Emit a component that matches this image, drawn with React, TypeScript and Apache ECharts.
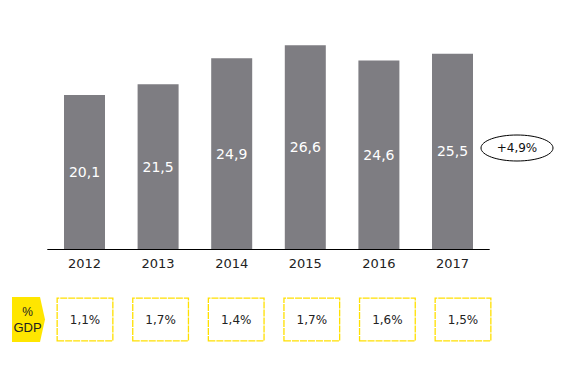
import React, { useEffect, useRef } from "react";
import * as echarts from "echarts";

const years = ["2012", "2013", "2014", "2015", "2016", "2017"];
const values = [20.1, 21.5, 24.9, 26.6, 24.6, 25.5];
const gdpShare = [1.1, 1.7, 1.4, 1.7, 1.6, 1.5];
const growthLabel = "+4,9%";

const fmt = (v: number) => v.toFixed(1).replace(".", ",");

export default function App() {
  const ref = useRef<HTMLDivElement>(null);
  useEffect(() => {
    document.body.style.margin = "0";
    const chart = echarts.init(ref.current!, null, { renderer: "svg" });
    const font = "DejaVu Sans, Verdana, sans-serif";
    chart.setOption({
      animation: false,
      backgroundColor: "#ffffff",
      grid: [
        { left: 47.7, right: 71.7, top: 19.2, bottom: 117 },
        { left: 47.2, right: 60.2, top: 297.5, height: 44 },
      ],
      xAxis: [
        {
          type: "category",
          gridIndex: 0,
          data: years,
          axisLine: { lineStyle: { color: "#000", width: 1 } },
          axisTick: { show: false },
          axisLabel: { color: "#222", fontSize: 13, fontFamily: font, margin: 8 },
        },
        {
          type: "category",
          gridIndex: 1,
          data: years,
          show: false,
        },
      ],
      yAxis: [
        { type: "value", gridIndex: 0, min: 0, max: 30, show: false, splitLine: { show: false } },
        { type: "value", gridIndex: 1, min: 0, max: 1, show: false, splitLine: { show: false } },
      ],
      series: [
        {
          type: "bar",
          xAxisIndex: 0,
          yAxisIndex: 0,
          data: values,
          barWidth: 41,
          itemStyle: { color: "#7e7d82" },
          label: {
            show: true,
            position: "inside",
            color: "#ffffff",
            fontSize: 14,
            fontFamily: font,
            formatter: (p: any) => fmt(p.value),
          },
        },
        {
          type: "bar",
          xAxisIndex: 1,
          yAxisIndex: 1,
          data: gdpShare.map(() => 1),
          barWidth: 57,
          itemStyle: {
            color: "rgba(255,255,255,0)",
            borderColor: "#ffe000",
            borderWidth: 1.3,
            borderType: [7, 1],
          },
          label: {
            show: true,
            position: "inside",
            color: "#222",
            fontSize: 12,
            fontFamily: font,
            formatter: (p: any) => fmt(gdpShare[p.dataIndex]) + "%",
          },
        },
      ],
      graphic: [
        {
          type: "ellipse",
          shape: { cx: 517, cy: 148, rx: 36, ry: 13 },
          style: { fill: "#fff", stroke: "#000", lineWidth: 1 },
        },
        {
          type: "text",
          x: 517,
          y: 148,
          style: {
            text: growthLabel,
            fill: "#111",
            fontSize: 12,
            fontFamily: font,
            align: "center",
            verticalAlign: "middle",
          },
        },
        {
          type: "polygon",
          shape: { points: [[12, 297], [40, 297], [45, 319.5], [40, 342], [12, 342]] },
          style: { fill: "#ffe600" },
        },
        {
          type: "text",
          x: 27.5,
          y: 312,
          style: {
            text: "%",
            fill: "#222",
            fontSize: 12,
            fontFamily: "Liberation Sans, Arial, sans-serif",
            align: "center",
            verticalAlign: "middle",
          },
        },
        {
          type: "text",
          x: 27.5,
          y: 327,
          style: {
            text: "GDP",
            fill: "#222",
            fontSize: 13,
            fontFamily: "Liberation Sans, Arial, sans-serif",
            align: "center",
            verticalAlign: "middle",
          },
        },
      ],
    });
    return () => chart.dispose();
  }, []);
  return <div ref={ref} style={{ width: 561, height: 366 }} />;
}
